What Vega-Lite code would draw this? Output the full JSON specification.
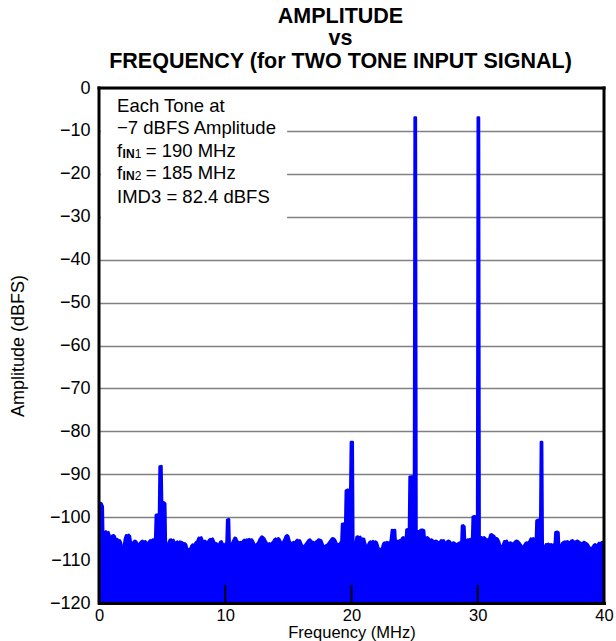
{
"$schema": "https://vega.github.io/schema/vega-lite/v6.json",
"width": 505, "height": 515,
"autosize": {"type": "none"},
"padding": {"left": 99, "top": 88, "right": 12, "bottom": 38},
"background": "white",
"title": {"text": ["AMPLITUDE", "vs", "FREQUENCY (for TWO TONE INPUT SIGNAL)"], "font": "Liberation Sans", "fontSize": 21.5, "fontWeight": "bold", "lineHeight": 22.5, "anchor": "middle", "offset": 7, "color": "black", "dx": -11},
"config": {"view": {"stroke": null}, "font": "Liberation Sans"},
"datasets": {
"spectrum": [
{"f":0,"a":-97},{"f":0.1,"a":-96.7},{"f":0.2,"a":-96.8},{"f":0.3,"a":-97.5},{"f":0.35,"a":-106},{"f":0.45,"a":-103.6},{"f":0.55,"a":-103.3},{"f":0.65,"a":-103.8},{"f":0.75,"a":-103.5},{"f":0.85,"a":-104.4},{"f":0.95,"a":-105.5},{"f":1.05,"a":-104.3},{"f":1.15,"a":-104.2},{"f":1.25,"a":-104.5},{"f":1.35,"a":-105.4},{"f":1.45,"a":-105.1},{"f":1.55,"a":-105.6},{"f":1.65,"a":-105.4},{"f":1.75,"a":-106},{"f":1.85,"a":-107.6},{"f":1.95,"a":-107.2},{"f":2.05,"a":-105},{"f":2.15,"a":-104.2},{"f":2.25,"a":-104.5},{"f":2.35,"a":-104.1},{"f":2.45,"a":-104.4},{"f":2.55,"a":-106.4},{"f":2.65,"a":-106.2},{"f":2.75,"a":-105.7},{"f":2.85,"a":-105.5},{"f":2.95,"a":-105.7},{"f":3.05,"a":-106.2},{"f":3.15,"a":-106.5},{"f":3.25,"a":-106},{"f":3.35,"a":-105.7},{"f":3.45,"a":-105.5},{"f":3.55,"a":-106.1},{"f":3.65,"a":-105.6},{"f":3.75,"a":-105.9},{"f":3.85,"a":-106.4},{"f":3.95,"a":-105.8},{"f":4.05,"a":-105.4},{"f":4.15,"a":-105.6},{"f":4.25,"a":-105.2},{"f":4.35,"a":-105.5},{"f":4.45,"a":-104.8},
{"f":4.5,"a":-99.5},{"f":4.6,"a":-99.4},{"f":4.75,"a":-99.6},{"f":4.8,"a":-88.2},{"f":4.95,"a":-88.1},{"f":5.0,"a":-96.6},{"f":5.1,"a":-96.5},{"f":5.25,"a":-96.8},{"f":5.3,"a":-106.5},
{"f":5.4,"a":-106.8},{"f":5.5,"a":-106},{"f":5.6,"a":-105.3},{"f":5.7,"a":-105.2},{"f":5.8,"a":-105.5},{"f":5.9,"a":-105.3},{"f":6.0,"a":-106.1},{"f":6.1,"a":-105.9},{"f":6.2,"a":-105.7},{"f":6.3,"a":-106},{"f":6.4,"a":-105.7},{"f":6.5,"a":-105.8},{"f":6.6,"a":-105.9},{"f":6.7,"a":-106.2},{"f":6.8,"a":-106.1},{"f":6.9,"a":-106.4},{"f":7.0,"a":-107.6},{"f":7.1,"a":-107.4},{"f":7.2,"a":-107.6},{"f":7.3,"a":-106.8},{"f":7.4,"a":-106.4},{"f":7.5,"a":-106.6},{"f":7.6,"a":-106.2},{"f":7.7,"a":-105.8},{"f":7.8,"a":-105.5},{"f":7.9,"a":-104.8},{"f":8.0,"a":-105},{"f":8.1,"a":-104.7},{"f":8.2,"a":-105.4},{"f":8.3,"a":-105.7},{"f":8.4,"a":-105.5},{"f":8.5,"a":-105.8},{"f":8.6,"a":-106},{"f":8.7,"a":-105.4},{"f":8.8,"a":-105.1},{"f":8.9,"a":-105.3},{"f":9.0,"a":-105},{"f":9.1,"a":-105.6},{"f":9.2,"a":-106.3},{"f":9.3,"a":-106.1},{"f":9.4,"a":-106.5},{"f":9.5,"a":-106.4},{"f":9.6,"a":-105.8},{"f":9.7,"a":-105.6},{"f":9.8,"a":-106.2},{"f":9.9,"a":-106.5},{"f":10.0,"a":-106.3},{"f":10.1,"a":-105.9},
{"f":10.15,"a":-100.6},{"f":10.3,"a":-100.5},{"f":10.35,"a":-106.2},{"f":10.45,"a":-106.5},{"f":10.55,"a":-106},{"f":10.65,"a":-105.4},{"f":10.75,"a":-104.8},{"f":10.85,"a":-104.9},{"f":10.95,"a":-105.6},
{"f":11.1,"a":-106},{"f":11.2,"a":-105.8},{"f":11.3,"a":-106},{"f":11.4,"a":-105.6},{"f":11.5,"a":-105.3},{"f":11.6,"a":-105.5},{"f":11.7,"a":-105.2},{"f":11.8,"a":-105.4},{"f":11.9,"a":-105.1},{"f":12.0,"a":-105.5},{"f":12.1,"a":-105.2},{"f":12.2,"a":-105.6},{"f":12.3,"a":-106.3},{"f":12.4,"a":-106.5},{"f":12.5,"a":-106.3},{"f":12.6,"a":-106},{"f":12.7,"a":-105.3},{"f":12.8,"a":-104.8},{"f":12.9,"a":-104.5},{"f":13.0,"a":-104.7},{"f":13.1,"a":-105},{"f":13.2,"a":-105.6},{"f":13.3,"a":-106.1},{"f":13.4,"a":-106.3},{"f":13.5,"a":-106.1},{"f":13.6,"a":-106.4},{"f":13.7,"a":-106},{"f":13.8,"a":-105.7},{"f":13.9,"a":-105.2},{"f":14.0,"a":-105},{"f":14.1,"a":-105.3},{"f":14.2,"a":-104.9},{"f":14.3,"a":-105.2},{"f":14.4,"a":-105.8},{"f":14.5,"a":-106.1},{"f":14.6,"a":-105.7},{"f":14.7,"a":-105.1},{"f":14.8,"a":-104.4},{"f":14.9,"a":-104.2},{"f":15.0,"a":-104.5},{"f":15.1,"a":-105.6},{"f":15.2,"a":-106},{"f":15.3,"a":-106.2},{"f":15.4,"a":-105.8},{"f":15.5,"a":-106},{"f":15.6,"a":-105.6},{"f":15.7,"a":-105.3},{"f":15.8,"a":-105.5},{"f":15.9,"a":-105.4},{"f":16.0,"a":-106},{"f":16.1,"a":-106.7},{"f":16.2,"a":-106.9},{"f":16.3,"a":-106.6},{"f":16.4,"a":-106.2},{"f":16.5,"a":-105.8},{"f":16.6,"a":-105.4},{"f":16.7,"a":-105.2},{"f":16.8,"a":-105.5},{"f":16.9,"a":-105.9},{"f":17.0,"a":-105.8},{"f":17.1,"a":-106.1},{"f":17.2,"a":-105.7},{"f":17.3,"a":-105.5},{"f":17.4,"a":-105.2},{"f":17.5,"a":-105.3},{"f":17.6,"a":-105.4},{"f":17.7,"a":-106.2},{"f":17.8,"a":-107},{"f":17.9,"a":-106.8},{"f":18.0,"a":-106.5},{"f":18.1,"a":-106.4},{"f":18.2,"a":-106},{"f":18.3,"a":-105.6},{"f":18.4,"a":-105.2},{"f":18.5,"a":-104.9},{"f":18.6,"a":-105},{"f":18.7,"a":-105.3},{"f":18.8,"a":-106},{"f":18.9,"a":-106.4},{"f":19.0,"a":-106.3},{"f":19.1,"a":-106.1},{"f":19.2,"a":-105.5},
{"f":19.25,"a":-101.6},{"f":19.35,"a":-101.5},{"f":19.5,"a":-101.7},{"f":19.55,"a":-93.8},{"f":19.7,"a":-93.6},{"f":19.9,"a":-93.8},{"f":19.95,"a":-82.5},{"f":20.1,"a":-82.5},{"f":20.15,"a":-107},
{"f":20.3,"a":-106.8},{"f":20.4,"a":-104.6},{"f":20.5,"a":-104.5},{"f":20.6,"a":-104.8},{"f":20.7,"a":-104.6},{"f":20.8,"a":-105.8},{"f":20.9,"a":-105},{"f":21.0,"a":-105.1},{"f":21.1,"a":-106.3},{"f":21.2,"a":-107.2},{"f":21.3,"a":-106.6},{"f":21.4,"a":-105.9},{"f":21.5,"a":-105.7},{"f":21.6,"a":-105.9},{"f":21.7,"a":-105.6},{"f":21.8,"a":-105.9},{"f":21.9,"a":-105.7},{"f":22.0,"a":-105.9},{"f":22.1,"a":-106.8},{"f":22.2,"a":-107.6},{"f":22.3,"a":-107.4},{"f":22.4,"a":-107.5},{"f":22.5,"a":-106.3},{"f":22.6,"a":-105.9},{"f":22.7,"a":-106.1},{"f":22.8,"a":-105.8},{"f":22.9,"a":-106},{"f":23.0,"a":-105.9},{"f":23.1,"a":-105.6},{"f":23.2,"a":-103},{"f":23.3,"a":-103.1},{"f":23.45,"a":-103},{"f":23.5,"a":-105.6},{"f":23.6,"a":-105.5},{"f":23.7,"a":-105.7},{"f":23.8,"a":-105.4},{"f":23.9,"a":-105.6},{"f":24.0,"a":-104.9},{"f":24.1,"a":-104.7},{"f":24.2,"a":-104.9},{"f":24.3,"a":-105.3},{"f":24.35,"a":-102.9},{"f":24.45,"a":-102.8},{"f":24.55,"a":-103},
{"f":24.6,"a":-90.6},{"f":24.75,"a":-90.5},{"f":24.95,"a":-90.7},{"f":25.0,"a":-6.9},{"f":25.1,"a":-6.9},{"f":25.15,"a":-103.2},
{"f":25.3,"a":-103.3},{"f":25.4,"a":-104.6},{"f":25.45,"a":-103},{"f":25.6,"a":-102.9},{"f":25.75,"a":-103.1},{"f":25.8,"a":-104.9},{"f":25.9,"a":-104.8},{"f":26.0,"a":-104.7},{"f":26.1,"a":-104.9},{"f":26.2,"a":-105.6},{"f":26.3,"a":-105.2},{"f":26.4,"a":-105.3},{"f":26.5,"a":-105.7},{"f":26.6,"a":-105.6},{"f":26.7,"a":-105.5},{"f":26.8,"a":-105.7},{"f":26.9,"a":-106},{"f":27.0,"a":-105.8},{"f":27.1,"a":-105.4},{"f":27.2,"a":-105.5},{"f":27.3,"a":-105.4},{"f":27.4,"a":-105.9},{"f":27.5,"a":-106.1},{"f":27.6,"a":-105.6},{"f":27.7,"a":-105.5},{"f":27.8,"a":-105.7},{"f":27.9,"a":-106.2},{"f":28.0,"a":-106},{"f":28.1,"a":-105.9},{"f":28.2,"a":-106.1},{"f":28.3,"a":-106.4},{"f":28.4,"a":-106.2},{"f":28.5,"a":-106},{"f":28.6,"a":-105.9},{"f":28.7,"a":-106.1},{"f":28.75,"a":-102},{"f":28.85,"a":-101.9},{"f":28.95,"a":-102.2},{"f":29.0,"a":-105.9},{"f":29.1,"a":-105.6},{"f":29.2,"a":-105.2},{"f":29.3,"a":-105.3},{"f":29.4,"a":-105.1},{"f":29.5,"a":-105.4},{"f":29.55,"a":-105.2},
{"f":29.6,"a":-99.9},{"f":29.75,"a":-99.8},{"f":29.95,"a":-100},{"f":30.0,"a":-6.9},{"f":30.1,"a":-6.9},{"f":30.15,"a":-104.8},
{"f":30.3,"a":-104.7},{"f":30.4,"a":-104.9},{"f":30.5,"a":-104.7},{"f":30.6,"a":-104.9},{"f":30.7,"a":-105.3},{"f":30.8,"a":-105.2},{"f":30.9,"a":-105.1},{"f":31.0,"a":-104.1},{"f":31.1,"a":-104},{"f":31.2,"a":-104.2},{"f":31.3,"a":-104.4},{"f":31.4,"a":-105},{"f":31.5,"a":-104.9},{"f":31.6,"a":-105.2},{"f":31.7,"a":-105.8},{"f":31.8,"a":-107},{"f":31.9,"a":-106.9},{"f":32.0,"a":-106.4},{"f":32.1,"a":-105.6},{"f":32.2,"a":-105.7},{"f":32.3,"a":-105.5},{"f":32.4,"a":-106.2},{"f":32.5,"a":-106},{"f":32.6,"a":-105.9},{"f":32.7,"a":-106.1},{"f":32.8,"a":-106.3},{"f":32.9,"a":-105.9},{"f":33.0,"a":-105.6},{"f":33.1,"a":-105.5},{"f":33.2,"a":-105.7},{"f":33.3,"a":-106},{"f":33.4,"a":-106.4},{"f":33.5,"a":-107},{"f":33.6,"a":-106.9},{"f":33.7,"a":-106.5},{"f":33.8,"a":-106},{"f":33.9,"a":-105.9},{"f":34.0,"a":-106.1},{"f":34.1,"a":-105.6},{"f":34.2,"a":-105},{"f":34.3,"a":-105.1},{"f":34.4,"a":-104.9},{"f":34.5,"a":-105.3},{"f":34.6,"a":-105.6},
{"f":34.65,"a":-100.8},{"f":34.8,"a":-100.6},{"f":34.95,"a":-100.7},{"f":35.0,"a":-82.5},{"f":35.1,"a":-82.5},{"f":35.15,"a":-107},
{"f":35.3,"a":-106.9},{"f":35.4,"a":-106.3},{"f":35.5,"a":-106.4},{"f":35.6,"a":-106.2},{"f":35.7,"a":-106.5},{"f":35.8,"a":-106.3},{"f":35.9,"a":-106.6},{"f":36.0,"a":-106.4},{"f":36.1,"a":-106.2},{"f":36.15,"a":-103.5},{"f":36.3,"a":-103.4},{"f":36.4,"a":-103.6},{"f":36.45,"a":-107.2},{"f":36.6,"a":-106.6},{"f":36.7,"a":-106},{"f":36.8,"a":-105.8},{"f":36.9,"a":-105.7},{"f":37.0,"a":-105.9},{"f":37.1,"a":-105.6},{"f":37.2,"a":-105.8},{"f":37.3,"a":-106},{"f":37.4,"a":-105.5},{"f":37.5,"a":-105.4},{"f":37.6,"a":-105.6},{"f":37.7,"a":-106.1},{"f":37.8,"a":-105.6},{"f":37.9,"a":-105.5},{"f":38.0,"a":-105.7},{"f":38.1,"a":-105.9},{"f":38.2,"a":-106.3},{"f":38.3,"a":-106},{"f":38.4,"a":-105.8},{"f":38.5,"a":-105.9},{"f":38.6,"a":-106.1},{"f":38.7,"a":-106.3},{"f":38.8,"a":-106.8},{"f":38.9,"a":-107.3},{"f":39.0,"a":-107.2},{"f":39.1,"a":-107},{"f":39.2,"a":-106.5},{"f":39.3,"a":-106.3},{"f":39.4,"a":-106.8},{"f":39.5,"a":-106.4},{"f":39.6,"a":-106},{"f":39.7,"a":-106.2},{"f":39.8,"a":-105.9},{"f":39.9,"a":-105.8},{"f":40.0,"a":-105.9}
],
"ticks": [{"t": 10}, {"t": 20}, {"t": 30}]
},
"layer": [
{
"data": {"name": "spectrum"},
"mark": {"type": "area", "color": "#0000ff", "stroke": "#0000ff", "strokeWidth": 2.5, "strokeJoin": "round", "clip": true},
"encoding": {
"x": {"field": "f", "type": "quantitative", "scale": {"domain": [0, 40], "nice": false},
"axis": {"values": [0, 10, 20, 30, 40], "ticks": false, "domain": true, "domainColor": "black", "domainWidth": 3, "domainCap": "square", "grid": false, "labelFlush": false, "labelFontSize": 16.5, "labelPadding": 4, "labelColor": "black", "title": "Frequency (MHz)", "titleFontSize": 16.5, "titleFontWeight": "normal", "titleColor": "black", "titleY": 29.5, "titleBaseline": "middle", "zindex": 1}},
"y": {"field": "a", "type": "quantitative", "scale": {"domain": [-120, 0], "nice": false},
"axis": {"values": [0, -10, -20, -30, -40, -50, -60, -70, -80, -90, -100, -110, -120], "ticks": false, "domain": false, "grid": true, "gridColor": "#808080", "gridWidth": 1.5, "labelFlush": false, "labelFontSize": 18, "labelPadding": 9, "labelColor": "black", "title": "Amplitude (dBFS)", "titleFontSize": 18, "titleFontWeight": "normal", "titleColor": "black", "titleX": -81, "titleBaseline": "middle", "zindex": 0}},
"y2": {"datum": -120}
}
},
{
"data": {"values": [{}]},
"mark": {"type": "rect", "color": "white"},
"encoding": {"x": {"datum": 0.15}, "x2": {"datum": 14.9}, "y": {"datum": -1}, "y2": {"datum": -35}}
},
{
"data": {"name": "ticks"},
"mark": {"type": "rule", "color": "black", "strokeWidth": 2},
"encoding": {"x": {"field": "t", "type": "quantitative"}, "y": {"datum": -120}, "y2": {"datum": -115.8}}
},
{
"data": {"values": [{}]},
"mark": {"type": "rule", "color": "black", "strokeWidth": 3, "strokeCap": "square"},
"encoding": {"x": {"datum": 0.0001}, "y": {"datum": -0.0001}, "y2": {"datum": -120}}
},
{
"data": {"values": [{}]},
"mark": {"type": "rule", "color": "black", "strokeWidth": 3, "strokeCap": "square"},
"encoding": {"x": {"datum": 40}, "y": {"datum": -0.0001}, "y2": {"datum": -120}}
},
{
"data": {"values": [{}]},
"mark": {"type": "rule", "color": "black", "strokeWidth": 3, "strokeCap": "square"},
"encoding": {"y": {"datum": -0.0001}, "x": {"datum": 0.0001}, "x2": {"datum": 40}}
},
{
"data": {"values": [{}]},
"mark": {"type": "text", "align": "left", "baseline": "middle", "fontSize": 18.5, "color": "black"},
"encoding": {"x": {"datum": 1.43}, "y": {"datum": -4.1}, "text": {"value": "Each Tone at"}}
},
{
"data": {"values": [{}]},
"mark": {"type": "text", "align": "left", "baseline": "middle", "fontSize": 18.5, "color": "black"},
"encoding": {"x": {"datum": 1.43}, "y": {"datum": -9.3}, "text": {"value": "−7 dBFS Amplitude"}}
},
{
"data": {"values": [{}]},
"mark": {"type": "text", "align": "left", "baseline": "middle", "fontSize": 18.5, "color": "black"},
"encoding": {"x": {"datum": 1.43}, "y": {"datum": -14.6}, "text": {"value": "f"}}
},
{
"data": {"values": [{}]},
"mark": {"type": "text", "align": "left", "baseline": "middle", "fontSize": 12, "fontWeight": "bold", "color": "black", "dy": 3},
"encoding": {"x": {"datum": 1.87}, "y": {"datum": -14.6}, "text": {"value": "IN"}}
},
{
"data": {"values": [{}]},
"mark": {"type": "text", "align": "left", "baseline": "middle", "fontSize": 12, "color": "black", "dy": 3},
"encoding": {"x": {"datum": 2.83}, "y": {"datum": -14.6}, "text": {"value": "1"}}
},
{
"data": {"values": [{}]},
"mark": {"type": "text", "align": "left", "baseline": "middle", "fontSize": 18.5, "color": "black"},
"encoding": {"x": {"datum": 3.7}, "y": {"datum": -14.6}, "text": {"value": "= 190 MHz"}}
},
{
"data": {"values": [{}]},
"mark": {"type": "text", "align": "left", "baseline": "middle", "fontSize": 18.5, "color": "black"},
"encoding": {"x": {"datum": 1.43}, "y": {"datum": -19.9}, "text": {"value": "f"}}
},
{
"data": {"values": [{}]},
"mark": {"type": "text", "align": "left", "baseline": "middle", "fontSize": 12, "fontWeight": "bold", "color": "black", "dy": 3},
"encoding": {"x": {"datum": 1.87}, "y": {"datum": -19.9}, "text": {"value": "IN"}}
},
{
"data": {"values": [{}]},
"mark": {"type": "text", "align": "left", "baseline": "middle", "fontSize": 12, "color": "black", "dy": 3},
"encoding": {"x": {"datum": 2.83}, "y": {"datum": -19.9}, "text": {"value": "2"}}
},
{
"data": {"values": [{}]},
"mark": {"type": "text", "align": "left", "baseline": "middle", "fontSize": 18.5, "color": "black"},
"encoding": {"x": {"datum": 3.7}, "y": {"datum": -19.9}, "text": {"value": "= 185 MHz"}}
},
{
"data": {"values": [{}]},
"mark": {"type": "text", "align": "left", "baseline": "middle", "fontSize": 18.5, "color": "black"},
"encoding": {"x": {"datum": 1.43}, "y": {"datum": -25.3}, "text": {"value": "IMD3 = 82.4 dBFS"}}
}
]
}
